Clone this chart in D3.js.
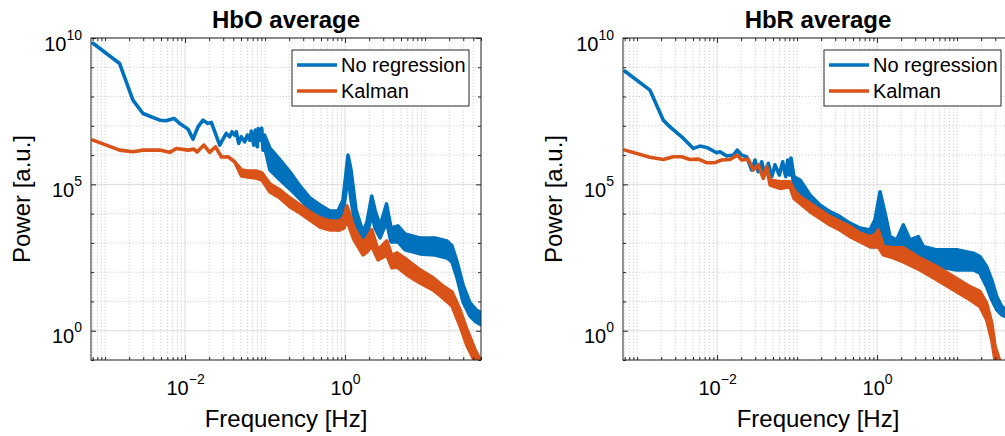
<!DOCTYPE html>
<html><head><meta charset="utf-8">
<script src="https://cdn.jsdelivr.net/npm/d3@7"></script>
<style>
body{margin:0;background:#fff}
svg{display:block}
text{font-family:"Liberation Sans",Arial,Helvetica,sans-serif;fill:#000}
</style>
</head><body><svg id="c" width="1005" height="436"></svg>
<script>
// ---------- data ----------
const xDomain = [6.67e-4, 50];
const yDomain = [0.1, 1e10];
const xMajorTicks = [1e-2, 1];
const xTickExponents = ["\u22122", "0"];
const yMajorTicks = [1, 1e5, 1e10];
const yTickExponents = ["0", "5", "10"];
const panelTitles = ["HbO average", "HbR average"];
const seriesNames = ["No regression", "Kalman"];
const seriesColors = ["#0072BD", "#D95319"];
const xLabel = "Frequency [Hz]";
const yLabel = "Power [a.u.]";

// [frequency Hz, upper power, lower power (if band)]
const hboNoReg = [
 [7.06e-4,6.6e9],[1.52e-3,1.34e9],[2.23e-3,7.5e7],[2.98e-3,2.64e7],[4.82e-3,1.56e7],
 [5.77e-3,1.48e7],[7.27e-3,1.79e7],[8.57e-3,1.21e7],[1.09e-2,7.7e6],[1.256e-2,3.5e6],
 [1.45e-2,9.2e6],[1.675e-2,1.56e7],[1.93e-2,1.21e7],[2.13e-2,1.31e7],[2.71e-2,2.2e6],
 [3.27e-2,5.5e6],[3.61e-2,4.2e6],[3.86e-2,6.2e6],[4.17e-2,4.8e6],[4.37e-2,6.2e6],
 [4.68e-2,2.5e6],[5.05e-2,4.2e6],[5.56e-2,2.85e6],[6.0e-2,4.8e6],[6.43e-2,3.25e6],
 [6.73e-2,6.6e6],[7.21e-2,2.2e6],[7.55e-2,7.1e6],[8.0e-2,1.92e6],[8.22e-2,8.1e6],
 [8.64e-2,3.25e6],[9.08e-2,8.3e6],[9.42e-2,1.48e6],[9.84e-2,4.8e6,2.0e6],[0.115,1.73e6,3.1e5],
 [0.154,6.8e5,1.41e5],[0.205,2.64e5,6.9e4],[0.273,8.8e4,3.16e4],[0.364,3.4e4,1.33e4],
 [0.486,1.98e4,7.7e3],[0.648,1.23e4,4.1e3],[0.816,1.23e4,2.78e3],[0.942,2.93e4,9.0e3],
 [1.088,1.0e6,2.08e5],[1.186,3.1e5,2.93e4],[1.369,1.33e4,2.78e3],[1.675,2.37e3,1.27e3],
 [1.879,5.2e3,1.73e3],[2.153,4.0e4,9.7e3],[2.366,1.33e4,3.25e3],[2.733,3.8e3,1.48e3],
 [3.296,2.14e4,5.2e3],[3.75,3.25e3,1.08e3],[4.586,3.8e3,1.08e3],[5.61,2.03e3,578],
 [8.64,1.48e3,422],[13.3,1.48e3,390],[18.8,1.17e3,308],[21.7,791,225],[25.1,225,64],
 [29.8,37,9.7],[36.4,9.0,3.2],[43.3,5.2,2.0],[50,4.1,1.6]
];
const hboKalman = [
 [7.06e-4,3.25e6],[1.52e-3,1.48e6],[2.23e-3,1.30e6],[2.98e-3,1.48e6],[4.82e-3,1.48e6],
 [6.43e-3,1.24e6],[7.77e-3,1.69e6],[1.09e-2,1.48e6],[1.29e-2,1.60e6],[1.41e-2,1.27e6],
 [1.72e-2,2.2e6],[2.03e-2,1.24e6],[2.40e-2,1.92e6],[2.85e-2,8.6e5],[3.44e-2,8.8e5],
 [4.17e-2,5.9e5],[5.07e-2,3.1e5,1.93e5],[6.11e-2,2.85e5,1.78e5],[7.70e-2,2.85e5,1.65e5],
 [9.15e-2,2.44e5,1.41e5],[0.115,1.03e5,5.5e4],[0.154,6.4e4,3.4e4],[0.205,3.4e4,1.69e4],
 [0.273,1.98e4,1.05e4],[0.364,1.14e4,6.1e3],[0.486,7.1e3,3.5e3],[0.648,5.6e3,2.78e3],
 [0.864,5.6e3,2.78e3],[0.969,8.3e3,3.25e3],[1.057,1.83e4,6.1e3],[1.186,7.1e3,2.37e3],
 [1.293,3.25e3,1.27e3],[1.675,1.0e3,390],[1.879,1.48e3,494],[2.153,2.78e3,791],
 [2.58,578,264],[3.31,1.17e3,390],[3.86,361,141],[4.46,456,152],[5.94,264,81],
 [8.64,120,43],[12.6,64,25],[16.7,34,13.3],[21.7,21,7.1],[27.3,5.2,1.48],
 [33.4,1.08,0.31],[42.1,0.225,0.088],[50,0.088,0.034]
];
const hbrNoReg = [
 [7.06e-4,7.3e8],[1.45e-3,1.65e8],[2.13e-3,1.56e7],[2.58e-3,9.2e6],[3.61e-3,4.2e6],
 [5.05e-3,1.69e6],[6.11e-3,2.03e6],[7.41e-3,1.83e6],[9.89e-3,1.20e6],[1.09e-2,1.30e6],
 [1.32e-2,9.3e5],[1.60e-2,1.0e6],[1.79e-2,1.48e6],[2.03e-2,1.0e6],[2.34e-2,8.8e5],
 [2.71e-2,3.1e5],[2.98e-2,6.8e5],[3.27e-2,2.7e5],[3.61e-2,5.9e5],[3.97e-2,2.08e5],
 [4.37e-2,5.2e5],[4.82e-2,1.82e5],[5.30e-2,4.6e5],[6.0e-2,2.08e5],[6.61e-2,5.9e5],
 [7.21e-2,1.82e5],[7.64e-2,6.8e5],[8.04e-2,2.08e5],[8.39e-2,7.9e5],
 [9.15e-2,1.82e5,6.4e4],[0.109,1.41e5,5.0e4],
 [0.145,4.3e4,1.73e4],[0.193,1.98e4,9.0e3],[0.258,1.17e4,4.7e3],[0.344,7.9e3,3.6e3],
 [0.459,4.7e3,2.14e3],[0.612,3.2e3,1.27e3],[0.816,2.78e3,748],[0.942,6.1e3,748],
 [1.088,5.6e4,1.64e3],[1.256,1.05e4,748],[1.45,1.64e3,578],[1.758,1.27e3,446],
 [2.128,4.1e3,748],[2.58,1.27e3,341],[3.27,1.64e3,341],[3.78,748,203],[5.56,578,156],
 [9.89,578,120],[16.0,446,120],[19.3,341,93],[23.4,156,32],[27.1,55,11.4],
 [31.3,14.8,5.2],[36.1,6.7,3.5],[40.9,5.2,3.0],[50,4.4,2.4]
];
const hbrKalman = [
 [7.06e-4,1.48e6],[1.45e-3,8.4e5],[2.13e-3,7.1e5],[2.84e-3,8.8e5],[3.61e-3,8.8e5],
 [4.59e-3,7.1e5],[5.82e-3,7.3e5],[7.41e-3,5.5e5],[9.42e-3,5.5e5],[1.14e-2,6.8e5],
 [1.45e-2,7.1e5],[1.79e-2,1.0e6],[2.03e-2,6.8e5],[2.45e-2,7.3e5],[2.84e-2,3.1e5],
 [3.27e-2,4.6e5],[3.78e-2,1.61e5],[4.17e-2,4.0e5],[4.59e-2,1.41e5,9.5e4],
 [6.11e-2,1.23e5,7.3e4],[8.15e-2,1.23e5,8.3e4],[9.15e-2,6.4e4,3.3e4],[0.109,3.8e4,2.26e4],
 [0.145,2.26e4,1.17e4],[0.193,1.33e4,7.0e3],[0.258,7.9e3,4.1e3],[0.344,5.3e3,2.78e3],
 [0.459,3.6e3,1.64e3],[0.612,2.14e3,1.11e3],[0.816,1.64e3,748],[0.942,1.88e3,731],
 [1.035,2.78e3,748],[1.197,748,390],[1.595,676,308],[2.128,676,225],[3.44,301,120],
 [5.56,156,55],[8.97,71,25],[14.5,32,11.4],[19.3,22,6.7],[23.4,8.8,2.4],
 [27.1,1.83,0.49],[29.8,0.29,0.10],[34.4,0.088,0.032]
];

// ---------- layout ----------
const W = 390, H = 322, TOP = 38;
const panelLeft = [91, 623];
const panelSeries = [[hboNoReg, hboKalman], [hbrNoReg, hbrKalman]];
const axisColor = "#262626";

const svg = d3.select("#c");

// minor tick values
const xMinor = [];
for (let k = -4; k <= 1; k++) for (let m = 1; m <= 9; m++) {
  const v = m * Math.pow(10, k);
  if (v >= xDomain[0] * 0.999 && v <= xDomain[1] * 1.001 && !xMajorTicks.some(t => Math.abs(t - v) / t < 1e-6)) xMinor.push(v);
}
const yMinor = [];
for (let k = -1; k <= 10; k++) {
  const v = Math.pow(10, k);
  if (!yMajorTicks.includes(v)) yMinor.push(v);
}

panelLeft.forEach((left, pi) => {
  const x = d3.scaleLog().domain(xDomain).range([0, W]);
  const y = d3.scaleLog().domain(yDomain).range([H, 0]);
  const g = svg.append("g").attr("transform", `translate(${left},${TOP})`);

  g.append("rect").attr("width", W).attr("height", H).attr("fill", "#fff");

  // grids
  const grid = g.append("g");
  grid.selectAll("line.xm").data(xMinor).join("line")
    .attr("x1", d => x(d)).attr("x2", d => x(d)).attr("y1", 0).attr("y2", H)
    .attr("stroke", "#c4c4c4").attr("stroke-width", 1).attr("stroke-dasharray", "1,2.2");
  grid.selectAll("line.ym").data(yMinor).join("line")
    .attr("y1", d => y(d)).attr("y2", d => y(d)).attr("x1", 0).attr("x2", W)
    .attr("stroke", "#c4c4c4").attr("stroke-width", 1).attr("stroke-dasharray", "1,2.2");
  grid.selectAll("line.xM").data(xMajorTicks).join("line")
    .attr("x1", d => x(d)).attr("x2", d => x(d)).attr("y1", 0).attr("y2", H)
    .attr("stroke", "#dcdcdc").attr("stroke-width", 1);
  grid.selectAll("line.yM").data(yMajorTicks).join("line")
    .attr("y1", d => y(d)).attr("y2", d => y(d)).attr("x1", 0).attr("x2", W)
    .attr("stroke", "#dcdcdc").attr("stroke-width", 1);

  // data
  const clipId = "clip" + pi;
  g.append("clipPath").attr("id", clipId).append("rect").attr("width", W).attr("height", H);
  const plot = g.append("g").attr("clip-path", `url(#${clipId})`);
  const area = d3.area()
    .x(d => x(d[0]))
    .y1(d => y(d[1]))
    .y0(d => y(d.length > 2 ? d[2] : d[1]));
  panelSeries[pi].forEach((s, si) => {
    plot.append("path").datum(s).attr("d", area)
      .attr("fill", seriesColors[si]).attr("stroke", seriesColors[si])
      .attr("stroke-width", 3.6).attr("stroke-linejoin", "round").attr("stroke-linecap", "round");
  });

  // axes (ticks inward)
  const styleAxis = sel => { sel.select(".domain").remove(); sel.selectAll("line").attr("stroke", axisColor); };
  g.append("g").attr("transform", `translate(0,${H})`)
    .call(d3.axisBottom(x).tickValues(xMinor).tickSize(-3).tickFormat("")).call(styleAxis);
  g.append("g")
    .call(d3.axisTop(x).tickValues(xMinor).tickSize(-3).tickFormat("")).call(styleAxis);
  g.append("g")
    .call(d3.axisLeft(y).tickValues(yMinor).tickSize(-3).tickFormat("")).call(styleAxis);
  g.append("g").attr("transform", `translate(${W},0)`)
    .call(d3.axisRight(y).tickValues(yMinor).tickSize(-3).tickFormat("")).call(styleAxis);
  g.append("g")
    .call(d3.axisTop(x).tickValues(xMajorTicks).tickSize(-5).tickFormat("")).call(styleAxis);
  g.append("g").attr("transform", `translate(${W},0)`)
    .call(d3.axisRight(y).tickValues(yMajorTicks).tickSize(-5).tickFormat("")).call(styleAxis);

  const xAx = g.append("g").attr("transform", `translate(0,${H})`)
    .call(d3.axisBottom(x).tickValues(xMajorTicks).tickSize(-5).tickFormat(() => "")).call(styleAxis);
  xAx.selectAll(".tick text").each(function(d, i) {
    const t = d3.select(this).attr("y", 35).attr("dy", null)
      .attr("font-size", 20).attr("font-family", null).attr("text-anchor", "middle").attr("fill", "#000");
    t.append("tspan").text("10");
    t.append("tspan").attr("font-size", 14).attr("dy", -11).text(xTickExponents[i]);
  });
  const yAx = g.append("g")
    .call(d3.axisLeft(y).tickValues(yMajorTicks).tickSize(-5).tickPadding(9).tickFormat(() => "")).call(styleAxis);
  yAx.selectAll(".tick text").each(function(d, i) {
    const t = d3.select(this).attr("dy", null).attr("y", 12)
      .attr("font-size", 20).attr("font-family", null).attr("text-anchor", "end").attr("fill", "#000");
    t.append("tspan").text("10");
    t.append("tspan").attr("font-size", 14).attr("dy", -11).text(yTickExponents[i]);
  });

  // box
  g.append("rect").attr("width", W).attr("height", H).attr("fill", "none")
    .attr("stroke", axisColor).attr("stroke-width", 1);

  // title and labels
  g.append("text").attr("x", W / 2).attr("y", 28 - TOP).attr("text-anchor", "middle")
    .attr("font-size", 24).attr("font-weight", "bold").text(panelTitles[pi]);
  g.append("text").attr("x", W / 2).attr("y", 427 - TOP).attr("text-anchor", "middle")
    .attr("font-size", 24).text(xLabel);
  g.append("text").attr("transform", `translate(${30 - 91},${H / 2}) rotate(-90)`)
    .attr("text-anchor", "middle").attr("font-size", 24).text(yLabel);

  // legend
  const lw = 177, lh = 56;
  const lg = g.append("g").attr("transform", `translate(${W - 12 - lw},12)`);
  lg.append("rect").attr("width", lw).attr("height", lh).attr("fill", "#fff")
    .attr("stroke", axisColor).attr("stroke-width", 1);
  seriesNames.forEach((name, si) => {
    const yy = 15 + si * 26;
    lg.append("line").attr("x1", 5).attr("x2", 45).attr("y1", yy).attr("y2", yy)
      .attr("stroke", seriesColors[si]).attr("stroke-width", 3.6);
    lg.append("text").attr("x", 49).attr("y", yy + 7).attr("font-size", 20).text(name);
  });
});
</script>
</body></html>
